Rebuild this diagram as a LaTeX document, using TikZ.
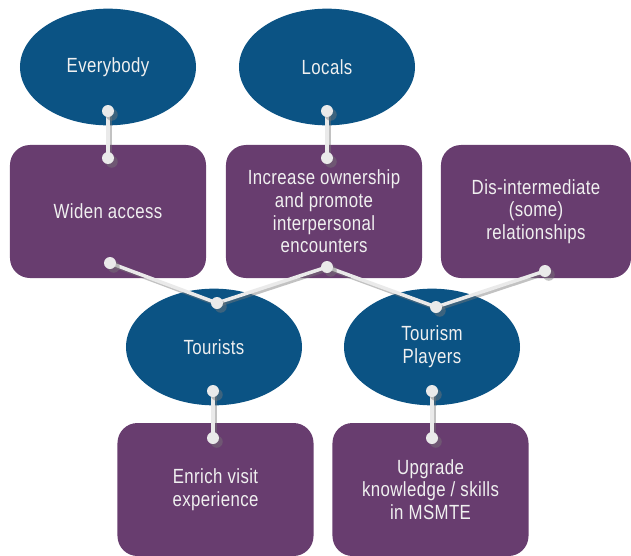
\documentclass[tikz,border=0pt]{standalone}
\usepackage{fontspec}
\setmainfont{Liberation Sans}[FakeStretch=0.82, LetterSpace=2]
\usetikzlibrary{shapes.geometric}
\definecolor{roleblue}{RGB}{11,83,132}
\definecolor{goalpurple}{RGB}{104,61,111}
\definecolor{linkgrey}{RGB}{234,234,234}
\definecolor{shadegrey}{RGB}{120,120,120}
\begin{document}
\begin{tikzpicture}[x=0.03cm, y=-0.03cm,
    every node/.style={font=\fontsize{17.5}{19.3}\selectfont, text=white!94!black, align=center},
    role/.style={ellipse, fill=roleblue, minimum width=5.28cm, minimum height=3.5cm, inner sep=0pt},
    goal/.style={rectangle, rounded corners=0.6cm, fill=goalpurple, minimum width=5.88cm, minimum height=3.99cm, inner sep=0pt},
    link/.style={line width=3pt, linkgrey},
    linkshade/.style={line width=3.4pt, shadegrey, opacity=0.45, transform canvas={xshift=1.6pt, yshift=-1.6pt}},
    port/.style={circle, fill=linkgrey, minimum size=0.36cm, inner sep=0pt}]
    \useasboundingbox (0,0) rectangle (631,556);

    % Stakeholders
    \node[role] (every) at (108,67) {Everybody};
    \node[role] (locals) at (327,67) {Locals};
    \node[role] (tour) at (214,347) {Tourists};
    \node[role] (play) at (432,347) {Tourism\\Players};

    % Goals
    \node[goal] (widen) at (108,211.5) {Widen access};
    \node[goal] (incr) at (324,211.5) {Increase ownership\\and promote\\interpersonal\\encounters};
    \node[goal, minimum width=5.7cm] (dis) at (536,211.5) {Dis-intermediate\\(some)\\relationships};
    \node[goal] (enrich) at (215.5,489.5) {Enrich visit\\experience};
    \node[goal] (upgrade) at (430.5,489.5) {Upgrade\\knowledge / skills\\in MSMTE};

    % Anchor points of the links
    \coordinate (every-p) at (108,111);
    \coordinate (widen-t) at (108,158);
    \coordinate (locals-p) at (327,111);
    \coordinate (incr-t) at (327,158);
    \coordinate (widen-b) at (110,263);
    \coordinate (incr-b) at (327,267);
    \coordinate (dis-b) at (545,271);
    \coordinate (tour-t) at (217,303);
    \coordinate (play-t) at (436,307);
    \coordinate (tour-b) at (213,391);
    \coordinate (enrich-t) at (213,438);
    \coordinate (play-b) at (432,391);
    \coordinate (upgrade-t) at (432,438);

    % Links
    \foreach \a/\b in {every-p/widen-t, locals-p/incr-t, widen-b/tour-t, incr-b/tour-t,
                       incr-b/play-t, dis-b/play-t, tour-b/enrich-t, play-b/upgrade-t}
        \draw[linkshade] (\a) -- (\b);
    \foreach \a/\b in {every-p/widen-t, locals-p/incr-t, widen-b/tour-t, incr-b/tour-t,
                       incr-b/play-t, dis-b/play-t, tour-b/enrich-t, play-b/upgrade-t}
        \draw[link] (\a) -- (\b);

    % Dots
    \foreach \p in {every-p, widen-t, locals-p, incr-t, widen-b, incr-b, dis-b,
                    tour-t, play-t, tour-b, enrich-t, play-b, upgrade-t} {
        \node[port, fill=shadegrey, opacity=0.45, transform canvas={xshift=1.6pt, yshift=-1.6pt}] (\p-sh) at (\p) {};
        \node[port] (\p-dot) at (\p) {};
    }
\end{tikzpicture}
\end{document}
